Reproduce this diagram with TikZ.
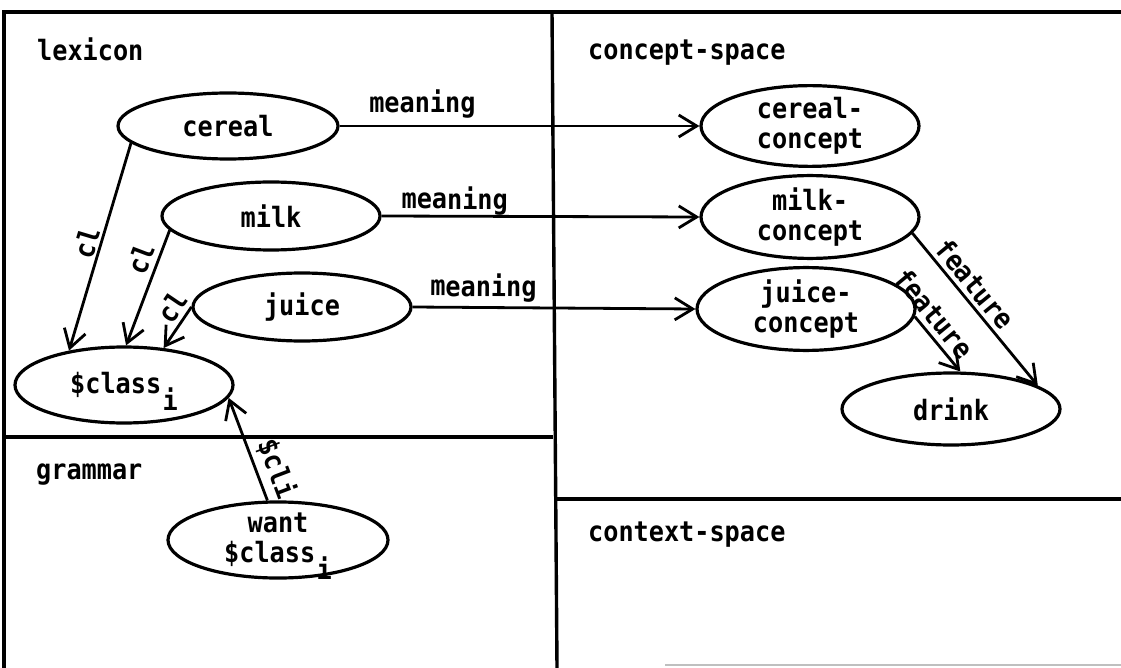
\documentclass[tikz,border=0pt]{standalone}
\usepackage{fontspec}
\usetikzlibrary{shapes.geometric, arrows.meta}
\newfontfamily\diagfont{DejaVu Sans Mono}[FakeStretch=0.9]
\newcommand\tfont{\diagfont\bfseries\fontsize{28}{30}\selectfont}
% lowered index letter that does not change the node's size
\newcommand\lowi{\hspace{0.05em}\raisebox{-0.6em}[0pt][0pt]{i}}

\tikzset{
  zone/.style={line width=3.4pt},
  blob/.style={ellipse, draw, line width=3.2pt, inner sep=0pt, align=center,
    font=\tfont, minimum width=218pt, minimum height=70pt},
  link/.style={line width=2.8pt, -{Straight Barb[length=18pt,width=22pt]}},
  tag/.style={font=\tfont, inner sep=0pt},
  edgetag/.style={font=\tfont, inner sep=3pt, sloped, above},
}

\begin{document}
\begin{tikzpicture}[x=1pt, y=-1pt]
  \useasboundingbox (0,0) rectangle (1121,668);

  % partition lines
  \draw[zone] (1121,12) -- (4,12) -- (4,668);
  \draw[zone] (552,12) -- (557,668);
  \draw[zone] (4,437) -- (553,437);
  \draw[zone] (554,499) -- (1121,499);
  \draw[gray!50, line width=1.2pt] (665,665) -- (1121,665);

  % area titles
  \node[tag, anchor=base west] (lex)  at (37,61)  {lexicon};
  \node[tag, anchor=base west] (csp)  at (588,60) {concept-space};
  \node[tag, anchor=base west] (gram) at (36,479) {grammar};
  \node[tag, anchor=base west] (ctx)  at (588,541) {context-space};

  % lexicon entries
  \node[blob, minimum width=220pt, minimum height=66pt] (cereal) at (228,126) {cereal};
  \node[blob, minimum height=68pt] (milk)  at (271,216) {milk};
  \node[blob, minimum height=68pt] (juice) at (302,307) {juice};
  \node[blob, minimum height=76pt] (cls)   at (124,385) {\$class\lowi};

  % concepts
  \node[blob, minimum height=74pt] (cc)    at (810,126) {cereal-\\concept};
  \node[blob, minimum height=72pt] (mc)    at (810,217) {milk-\\concept};
  \node[blob, minimum height=72pt] (jc)    at (806,309) {juice-\\concept};
  \node[blob, minimum height=72pt] (drink) at (951,409) {drink};

  % grammar
  \node[blob, minimum width=220pt, minimum height=74pt] (want) at (278,540) {want\\\$class\lowi};

  % meaning links
  \draw[link] (cereal.east) -- node[edgetag, pos=0.23, yshift=3pt] {meaning} (cc.west);
  \draw[link] (milk.east)   -- node[edgetag, pos=0.23, yshift=-3pt] {meaning} (mc.west);
  \draw[link] (juice.east)  -- node[edgetag, pos=0.25, yshift=1pt] {meaning} (jc.west);

  % class links
  \draw[link] (cereal.190) -- node[edgetag, pos=0.5, inner sep=2pt] {cl} (cls.148);
  \draw[link] (milk.188)   -- node[edgetag, pos=0.3, inner sep=5pt] {cl} (cls.87);
  \draw[link] (juice.180)  -- node[edgetag, pos=0.22, inner sep=4pt] {cl} (cls.43);
  \draw[link] (want.105)   -- node[edgetag, pos=0.24, inner sep=5pt] {\$cli} (cls.-7);

  % feature links
  \draw[link] (mc.-9) -- node[edgetag, pos=0.4, inner sep=4pt] {feature} (drink.15);
  \draw[link] (jc.-4) -- node[edgetag, pos=0.14, inner sep=5pt] {feature} (drink.76);
\end{tikzpicture}
\end{document}
